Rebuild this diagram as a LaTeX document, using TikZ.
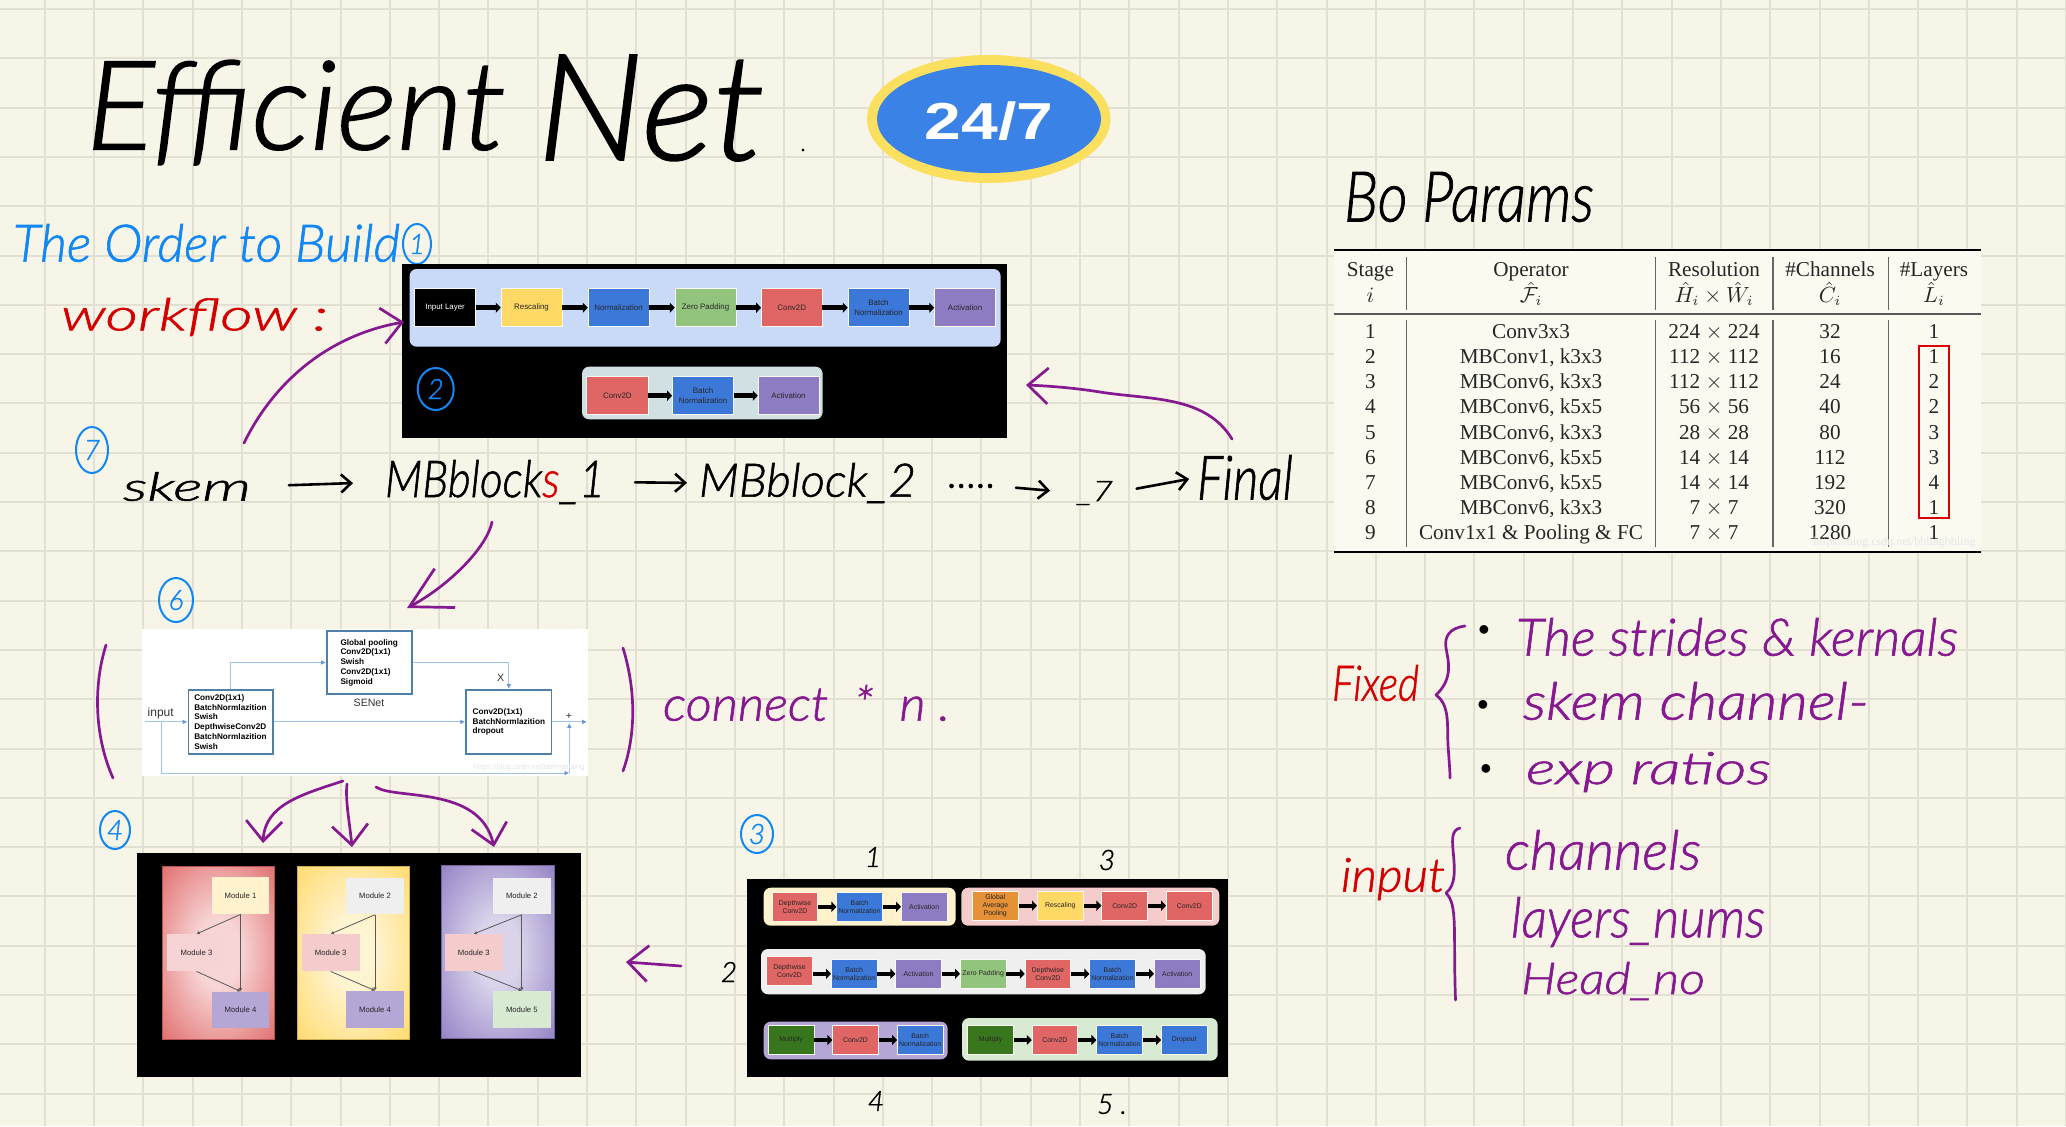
\documentclass[tikz,border=0pt]{standalone}
\usepackage{graphicx}
\usepackage{fontspec}
\usetikzlibrary{arrows.meta,shapes.geometric}
\setmainfont{Liberation Sans}
\newfontfamily\tabfont{Liberation Serif}
\newfontfamily\hand[FakeBold=1.2]{Lato Light}
\definecolor{paper}{HTML}{F7F5E8}
\definecolor{gridc}{HTML}{E1E0D3}
\definecolor{cred}{HTML}{E06666}
\definecolor{cblue}{HTML}{3C78D8}
\definecolor{cgreen}{HTML}{93C47D}
\definecolor{cyellow}{HTML}{FFD966}
\definecolor{cpurple}{HTML}{8E7CC3}
\definecolor{corange}{HTML}{E69138}
\definecolor{cdgreen}{HTML}{38761D}
\definecolor{lblue}{HTML}{C9DAF8}
\definecolor{lteal}{HTML}{D0E0E3}
\definecolor{lcream}{HTML}{FFF2CC}
\definecolor{lpink}{HTML}{F4CCCC}
\definecolor{lgrey}{HTML}{EFEFEF}
\definecolor{lpurple}{HTML}{B4A7D6}
\definecolor{lgreen}{HTML}{D9EAD3}
\definecolor{hpurple}{HTML}{86198F}
\definecolor{hblue}{HTML}{1187F5}
\definecolor{hred}{HTML}{D40000}
\definecolor{bxline}{HTML}{4F81A8}
\definecolor{conn}{HTML}{9FC5E8}
\definecolor{tabfill}{HTML}{FBFAF1}
\definecolor{badgey}{HTML}{FBDF5F}
\definecolor{badgeb}{HTML}{3A82E6}
\definecolor{innerred}{HTML}{F7D5D5}
\definecolor{inneryel}{HTML}{FFF4D2}
\definecolor{innerpur}{HTML}{DAD3EA}
\pgfdeclareradialshading{rred}{\pgfpoint{0bp}{0bp}}{color(0bp)=(innerred); color(10bp)=(innerred); color(38bp)=(cred); color(50bp)=(cred)}
\pgfdeclareradialshading{ryel}{\pgfpoint{0bp}{0bp}}{color(0bp)=(inneryel); color(10bp)=(inneryel); color(38bp)=(cyellow); color(50bp)=(cyellow)}
\pgfdeclareradialshading{rpur}{\pgfpoint{0bp}{0bp}}{color(0bp)=(innerpur); color(10bp)=(innerpur); color(38bp)=(cpurple); color(50bp)=(cpurple)}
\newcommand\bxf{\fontsize{3.95}{4.7}\selectfont}
\newcommand\flw{2.4pt}
% name x0 y0 x1 y1 colour text
\newcommand\bx[7]{\node[bxs,fill=#6,minimum width={(#4-#2)*0.5pt},minimum height={(#5-#3)*0.5pt}] (#1) at ({(#2+#4)/2},{(#3+#5)/2}) {#7};}
\newcommand\cont[6]{\node[conts,fill=#6,minimum width={(#4-#2)*0.5pt},minimum height={(#5-#3)*0.5pt}] (#1) at ({(#2+#4)/2},{(#3+#5)/2}) {};}
% name x0 y0 w h colour text
\newcommand\hw[7]{\node[handn,text=#6] (#1) at (#2,#3) {\resizebox*{\dimexpr #4pt/2\relax}{\dimexpr #5pt/2\relax}{\hand\itshape #7}};}
\tikzset{
  bxs/.style={rectangle,inner sep=0pt,align=center,font=\bxf,text=black!85,draw=white!40!paper,line width=.25pt},
  conts/.style={rectangle,rounded corners=3.5pt,inner sep=0pt,draw=none},
  blackp/.style={rectangle,fill=black,inner sep=0pt},
  flow/.style={-{Triangle[length=2.5pt,width=5pt]},line width=\flw,black},
  seb/.style={rectangle,draw=bxline,line width=.8pt,fill=white,inner sep=0pt,align=left,font=\bfseries\fontsize{4.1}{4.85}\selectfont},
  sec/.style={conn,line width=.5pt,-{Latex[length=2.4pt,width=2.4pt,color=cblue!60!conn]}},
  sel/.style={inner sep=0pt,font=\fontsize{5.3}{6}\selectfont,text=black!80},
  modn/.style={rectangle,inner sep=0pt,font=\fontsize{3.85}{4.5}\selectfont,text=black!85},
  modc/.style={black!65,line width=.4pt,-{Latex[length=1.6pt,width=1.8pt]}},
  handn/.style={anchor=north west,inner sep=0pt,outer sep=0pt},
  hp/.style={hpurple,line width=1.35pt,line cap=round,line join=round},
  hpa/.style={hp,-{Straight Barb[length=10pt,width=18pt,line width=1.35pt]}},
  hk/.style={black,line width=1.3pt,line cap=round,line join=round,-{Straight Barb[length=5pt,width=9pt,line width=1.3pt]}},
  numc/.style={ellipse,draw=hblue,line width=1pt,inner sep=0pt,text=hblue,font=\hand\itshape\fontsize{14}{15}\selectfont},
  hn/.style={inner sep=0pt,font=\hand\itshape\fontsize{14}{15}\selectfont,text=black},
  tabt/.style={anchor=base,inner sep=0pt,font=\tabfont\fontsize{10.6}{12}\selectfont,text=black!85},
  tabv/.style={black!60,line width=.6pt},
  wm/.style={inner sep=0pt,text=black!10,font=\fontsize{3.8}{4}\selectfont},
  bull/.style={inner sep=0pt,text=black,font=\fontsize{16}{16}\selectfont},
}
\begin{document}
\begin{tikzpicture}[x=0.5pt,y=-0.5pt]
\useasboundingbox (0,0) rectangle (2066,1126);
\fill[paper] (0,0) rectangle (2066,1126);
\foreach \k in {0,...,41} \draw[gridc,line width=1pt] ({44.7+49.3*\k},0) -- ({44.7+49.3*\k},1126);
\foreach \k in {0,...,22} \draw[gridc,line width=1pt] (0,{9+49.3*\k}) -- (2066,{9+49.3*\k});

% title & badge
\hw{tEff}{86}{60}{420}{105}{black}{Efficient}
\hw{tNet}{537}{55}{228}{106}{black}{Net}
\node[inner sep=0pt,text=black,font=\hand\fontsize{12}{12}\selectfont] (tDot) at (803,150) {.};
\node[ellipse,fill=badgey,minimum width=121.7pt,minimum height=64pt,inner sep=0pt] (badgeo) at (988.7,119) {};
\node[ellipse,fill=badgeb,minimum width=112pt,minimum height=54pt,inner sep=0pt] (badgei) at (989,119) {};
\node[inner sep=0pt,text=white,font=\bfseries\fontsize{26}{28}\selectfont] (badget) at (989,121) {\scalebox{1.27}[1]{24/7}};

% headings
\hw{order}{13}{224}{387}{38}{hblue}{The Order to Build}
\node[numc,minimum width=14pt,minimum height=20pt] (c1) at (417,244) {1};
\hw{wflow}{61}{298}{267}{38}{hred}{workflow :}

% panel 1
\node[blackp,minimum width=302.5pt,minimum height=86.75pt] (pA) at (704.5,351.2) {};
\cont{pAa}{409.6}{269}{1000.6}{346.7}{lblue}
\cont{pAb}{582}{366.7}{822.6}{419.3}{lteal}
\bx{a1}{414.5}{288.7}{475.7}{326.7}{black}{\color{white}Input Layer}
\bx{a2}{501}{288.7}{562}{326.7}{cyellow}{Rescaling}
\bx{a3}{588}{288.7}{649}{326.7}{cblue}{Normalization}
\bx{a4}{675}{288.7}{736}{326.7}{cgreen}{Zero Padding}
\bx{a5}{761.4}{288.7}{822}{326.7}{cred}{Conv2D}
\bx{a6}{848}{288.7}{909}{326.7}{cblue}{Batch\\Normalization}
\bx{a7}{934.5}{288.7}{995.7}{326.7}{cpurple}{Activation}
\foreach \p/\q in {a1/a2,a2/a3,a3/a4,a4/a5,a5/a6,a6/a7} \draw[flow] (\p.east) -- (\q.west);
\bx{b1}{586.7}{376.7}{648}{414.7}{cred}{Conv2D}
\bx{b2}{672.4}{376.7}{733.7}{414.7}{cblue}{Batch\\Normalization}
\bx{b3}{758}{376.7}{819}{414.7}{cpurple}{Activation}
\foreach \p/\q in {b1/b2,b2/b3} \draw[flow] (\p.east) -- (\q.west);
\node[numc,minimum width=18pt,minimum height=21pt] (c2) at (435.7,389) {2};

% handwritten workflow row
\node[numc,minimum width=16pt,minimum height=23pt] (c7) at (92,450) {7};
\hw{skem}{123}{472}{128}{29}{black}{skem}
\hw{mb1}{385}{460}{220}{44}{black}{MBblock{\color{hred}s}\_1}
\hw{mb2}{699}{463}{217}{40}{black}{MBblock\_2}
\hw{dots}{948}{484}{48}{4}{black}{.....}
\hw{seven}{1077}{481}{36}{24}{black}{\_7}
\hw{final}{1197}{455}{96}{45}{black}{Final}
\draw[hk,shorten <=19pt,shorten >=16pt] (skem.east) -- (mb1.west);
\draw[hk,shorten <=15pt,shorten >=6pt] (mb1.east) -- (mb2.west);
\draw[hk,shorten <=10pt,shorten >=13.5pt] (dots.east) -- (seven.west);
\draw[hk,shorten <=12pt,shorten >=4pt] (seven.east) -- (final.west);

% arrows around panel 1
\coordinate (s1) at (244,443);
\coordinate (t1) at (404,322);
\draw[hpa] (s1) .. controls (275,380) and (330,335) .. (t1);
\coordinate (s2) at (1232,439);
\coordinate (t2) at (1026,385);
\draw[hpa] (s2) .. controls (1205,395) and (1150,400) .. (1100,392) .. controls (1075,388) and (1050,386) .. (t2);

% SE panel
\coordinate (s3) at (492,522);
\coordinate (t3) at (407,608);
\draw[hp,-{Straight Barb[length=20pt,width=22pt,line width=1.35pt]}] (s3) .. controls (486,550) and (445,588) .. (t3);
\node[rectangle,fill=white,inner sep=0pt,minimum width=223.2pt,minimum height=73.3pt] (pS) at (364.9,702.4) {};
\node[seb,minimum width=42.2pt,minimum height=32.2pt] (A) at (230.5,721.9) {Conv2D(1x1)\\BatchNormlazition\\Swish\\DepthwiseConv2D\\BatchNormlazition\\Swish};
\node[seb,minimum width=42.5pt,minimum height=31.5pt] (SE) at (369.2,662.5) {Global pooling\\Conv2D(1x1)\\Swish\\Conv2D(1x1)\\Sigmoid};
\node[seb,minimum width=42.8pt,minimum height=32.2pt] (C) at (508.8,721.9) {Conv2D(1x1)\\BatchNormlazition\\dropout};
\coordinate (in) at (145,721.9);
\coordinate (out) at (587,721.9);
\coordinate (sp) at (161.7,721.9);
\coordinate (pl) at (569.3,773);
\coordinate (pm) at (569.3,723);
\draw[sec] (in) -- (A.west);
\draw[sec] (A.east) -- (C.west);
\draw[sec] (A.north) |- (SE.west);
\draw[sec] (SE.east) -| (C.north);
\draw[sec] (C.east) -- (out);
\draw[sec] (sp) |- (pl);
\draw[sec] (pl) -- (pm);
\node[sel,font=\fontsize{6}{7}\selectfont] (linput) at (160.7,713) {input};
\node[sel] (lse) at (369,702.7) {SENet};
\node[sel] (lx) at (500.7,678) {X};
\node[sel] (lplus) at (569,716) {+};
\node[wm,anchor=east] (wm1) at (585,768) {https://blog.csdn.net/bblingbbling};
\draw[hp] (106,645) .. controls (92,690) and (96,740) .. (113,778);
\draw[hp] (623,648) .. controls (636,690) and (636,735) .. (623,771);
\hw{conn1}{663}{685}{287}{36}{hpurple}{connect \ * \ n .}
\node[numc,minimum width=17pt,minimum height=22pt] (c6) at (176,600) {6};

% three arrows
\coordinate (f1) at (343,781);
\coordinate (g1) at (263,843);
\draw[hpa] (f1) .. controls (300,795) and (265,805) .. (g1);
\coordinate (f2) at (347,784);
\coordinate (g2) at (352,847);
\draw[hpa] (f2) .. controls (345,800) and (350,825) .. (g2);
\coordinate (f3) at (376,787);
\coordinate (g3) at (494,847);
\draw[hpa] (f3) .. controls (395,800) and (480,785) .. (g3);

% modules panel
\node[blackp,minimum width=222.2pt,minimum height=112.3pt] (pM) at (358.8,965) {};
\node[inner sep=0pt,shade,shading=rred,draw=cred!80!black,line width=.3pt,minimum width=56pt,minimum height=86.3pt] (mr) at (218.3,952.6) {};
\node[inner sep=0pt,shade,shading=ryel,draw=cyellow!80!black,line width=.3pt,minimum width=56pt,minimum height=86.3pt] (my) at (353,952.6) {};
\node[inner sep=0pt,shade,shading=rpur,draw=cpurple!80!black,line width=.3pt,minimum width=56.2pt,minimum height=86.3pt] (mp) at (497.8,952) {};
\newcommand\modbx[7]{\node[modn,fill=#6,minimum width={(#4-#2)*0.5pt},minimum height={(#5-#3)*0.5pt}] (#1) at ({(#2+#4)/2},{(#3+#5)/2}) {#7};}
\modbx{r1}{211.7}{877}{269.3}{914}{lcream}{Module 1}
\modbx{r3}{167.3}{934.3}{225.7}{971}{lpink!85!white}{Module 3}
\modbx{r4}{211.7}{991.7}{269.3}{1028.3}{lpurple}{Module 4}
\modbx{y2}{346}{877.7}{404}{914.3}{lgrey}{Module 2}
\modbx{y3}{301.7}{934.3}{359.7}{971}{lpink}{Module 3}
\modbx{y4}{346}{991}{404}{1027.7}{lpurple}{Module 4}
\modbx{p2}{492.7}{877.7}{551}{914.3}{lgrey}{Module 2}
\modbx{p3}{444.7}{934.3}{502.7}{971}{lpink}{Module 3}
\modbx{p5}{492.7}{991}{551}{1027.7}{lgreen}{Module 5}
\foreach \a/\b/\c in {r1/r3/r4,y2/y3/y4,p2/p3/p5} {
  \draw[modc] (\a.south) -- (\b.north);
  \draw[modc] (\a.south) -- (\c.north);
  \draw[modc] (\b.south) -- (\c.north);
}
\node[numc,minimum width=15pt,minimum height=19pt] (c4) at (115,830) {4};

% panel 3
\node[blackp,minimum width=240.5pt,minimum height=99.2pt] (pB) at (987.2,978.2) {};
\renewcommand\bxf{\fontsize{3.45}{4.1}\selectfont}
\renewcommand\flw{2pt}
\cont{c1a}{763.7}{887.7}{955.7}{925.7}{lcream}
\bx{d1}{772.3}{892.3}{817.7}{921.3}{cred}{Depthwise\\Conv2D}
\bx{d2}{836.7}{892.3}{882.3}{921.3}{cblue}{Batch\\Normalization}
\bx{d3}{901.3}{892.3}{947}{921.3}{cpurple}{Activation}
\cont{c1b}{961.3}{887.7}{1219.3}{925.7}{lpink}
\bx{e1}{972.3}{891.3}{1018.3}{920}{corange}{Global\\Average\\Pooling}
\bx{e2}{1037.3}{891.3}{1083.3}{920}{cyellow}{Rescaling}
\bx{e3}{1101.7}{891.3}{1147.7}{920}{cred}{Conv2D}
\bx{e4}{1166.3}{891.3}{1212.3}{920}{cred}{Conv2D}
\cont{c2a}{761}{949}{1205.7}{994.3}{lgrey}
\bx{f1b}{766.7}{956.7}{812.3}{985.7}{cred}{Depthwise\\Conv2D}
\bx{f2b}{831.3}{959.3}{877}{988.3}{cblue}{Batch\\Normalization}
\bx{f3b}{895.7}{959.3}{941.3}{988.3}{cpurple}{Activation}
\bx{f4b}{960.3}{959.3}{1006}{988.3}{cgreen}{Zero Padding}
\bx{f5b}{1025}{959.3}{1070.7}{988.3}{cred}{Depthwise\\Conv2D}
\bx{f6b}{1089.7}{959.3}{1135.3}{988.3}{cblue}{Batch\\Normalization}
\bx{f7b}{1154.3}{959.3}{1200}{988.3}{cpurple}{Activation}
\cont{c3a}{763.7}{1021.7}{947.7}{1059.3}{lpurple}
\bx{h1}{768.3}{1025.7}{814}{1054.3}{cdgreen}{Multiply}
\bx{h2}{832.7}{1025.7}{878.3}{1054.3}{cred}{Conv2D}
\bx{h3}{897.3}{1025.7}{943}{1054.3}{cblue}{Batch\\Normalization}
\cont{c3b}{962}{1018}{1217.7}{1060.7}{lgreen}
\bx{i1}{967.7}{1025.7}{1013.3}{1054.3}{cdgreen}{Multiply}
\bx{i2}{1032}{1025.7}{1077.7}{1054.3}{cred}{Conv2D}
\bx{i3}{1096.7}{1025.7}{1142.3}{1054.3}{cblue}{Batch\\Normalization}
\bx{i4}{1161.3}{1025.7}{1207}{1054.3}{cblue}{Dropout}
\foreach \p/\q in {d1/d2,d2/d3,e1/e2,e2/e3,e3/e4,f1b/f2b,f2b/f3b,f3b/f4b,f4b/f5b,f5b/f6b,f6b/f7b,h1/h2,h2/h3,i1/i2,i2/i3,i3/i4} \draw[flow] (\p.east |- \q.west) -- (\q.west);
\node[numc,minimum width=16pt,minimum height=19pt] (c3) at (757,834) {3};
\node[hn] (n1) at (873,857) {1};
\node[hn] (n3) at (1107,860) {3};
\node[hn] (n2) at (729,972) {2};
\node[hn] (n4) at (876,1101) {4};
\node[hn] (n5) at (1112,1104) {5 .};
\coordinate (s9) at (681,966);
\coordinate (t9) at (626,962);
\draw[hpa] (s9) -- (t9);

% Bo Params
\hw{bop}{1344}{172}{250}{50}{black}{Bo Params}
\node[rectangle,fill=tabfill,inner sep=0pt,minimum width=323.5pt,minimum height=151pt] (tb) at (1657.5,401) {};
\draw[black,line width=1.3pt] (1334,250) -- (1981,250);
\draw[black!65,line width=.7pt] (1334,314) -- (1981,314);
\draw[black,line width=1.3pt] (1334,552) -- (1981,552);
\foreach \x in {1406.8,1655.5,1773,1888.4} {
  \draw[tabv] (\x,257) -- (\x,310);
  \draw[tabv] (\x,320) -- (\x,547);
}
\node[tabt] (h1a) at (1370.4,276) {Stage};
\node[tabt] (h1b) at (1370.4,302.7) {$i$};
\node[tabt] (h2a) at (1531,276) {Operator};
\node[tabt] (h2b) at (1531,302.7) {$\hat{\mathcal{F}}_i$};
\node[tabt] (h3a) at (1714,276) {Resolution};
\node[tabt] (h3b) at (1714,302.7) {$\hat{H}_i\times\hat{W}_i$};
\node[tabt] (h4a) at (1830,276) {\#Channels};
\node[tabt] (h4b) at (1830,302.7) {$\hat{C}_i$};
\node[tabt] (h5a) at (1934,276) {\#Layers};
\node[tabt] (h5b) at (1934,302.7) {$\hat{L}_i$};
\foreach \i/\y/\op/\res/\ch/\ly in {
 1/338.7/Conv3x3/224 $\times$ 224/32/1,
 2/363.7/{MBConv1, k3x3}/112 $\times$ 112/16/1,
 3/388.7/{MBConv6, k3x3}/112 $\times$ 112/24/2,
 4/413.7/{MBConv6, k5x5}/56 $\times$ 56/40/2,
 5/439.3/{MBConv6, k3x3}/28 $\times$ 28/80/3,
 6/464.3/{MBConv6, k5x5}/14 $\times$ 14/112/3,
 7/489.3/{MBConv6, k5x5}/14 $\times$ 14/192/4,
 8/514.3/{MBConv6, k3x3}/7 $\times$ 7/320/1,
 9/539.3/Conv1x1 \& Pooling \& FC/7 $\times$ 7/1280/1} {
  \node[tabt] (ra\i) at (1370.4,\y) {\i};
  \node[tabt] (rb\i) at (1531,\y) {\op};
  \node[tabt] (rc\i) at (1714,\y) {\res};
  \node[tabt] (rd\i) at (1830,\y) {\ch};
  \node[tabt] (re\i) at (1934,\y) {\ly};
}
\draw[red!85!black,line width=.8pt] (1919,345.7) rectangle (1949,518);
\node[wm,anchor=east,font=\tabfont\fontsize{6}{6}\selectfont] (wm2) at (1976,543) {https://blog.csdn.net/bblingbbling};

% right notes
\hw{fixed}{1332}{665}{87}{36}{hred}{Fixed}
\draw[hp] (1465,626) .. controls (1450,628) and (1444,636) .. (1446,648) .. controls (1448,660) and (1454,678) .. (1436,695) .. controls (1450,705) and (1447,725) .. (1448,745) .. controls (1449,760) and (1450,770) .. (1450,778);
\node[bull] (bu1) at (1484,633) {•};
\node[bull] (bu2) at (1483,708) {•};
\node[bull] (bu3) at (1486,772) {•};
\hw{fa}{1516}{618}{442}{38}{hpurple}{The strides \& kernals}
\hw{fb}{1523}{682}{346}{38}{hpurple}{skem channel-}
\hw{fc}{1526}{752}{245}{40}{hpurple}{exp ratios}
\hw{inp}{1341}{858}{104}{42}{hred}{input}
\draw[hp] (1460,828) .. controls (1452,830) and (1452,838) .. (1453,850) .. controls (1455,870) and (1456,885) .. (1446,893) .. controls (1458,905) and (1453,930) .. (1455.5,1000);
\hw{ia}{1505}{830}{196}{40}{hpurple}{channels}
\hw{ib}{1511}{897}{254}{50}{hpurple}{layers\_nums}
\hw{ic}{1521}{962}{184}{38}{hpurple}{Head\_no}
\end{tikzpicture}
\end{document}
